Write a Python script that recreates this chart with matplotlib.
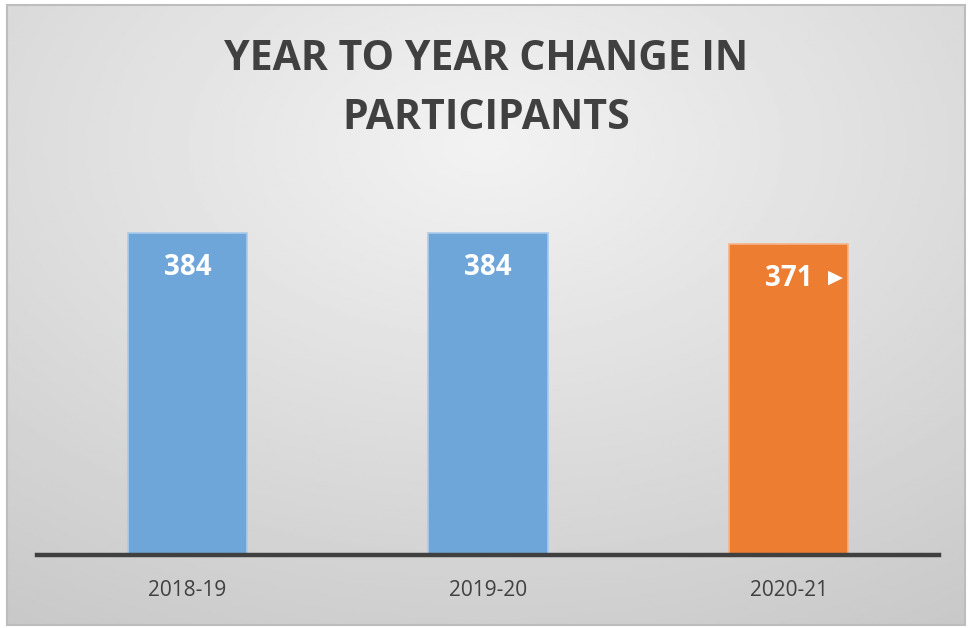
import numpy as np
import matplotlib
matplotlib.use('Agg')
import matplotlib.pyplot as plt

seasons = ['2018-19', '2019-20', '2020-21']
participants = [384, 384, 371]
bar_colors = ['#6FA6DA', '#6FA6DA', '#ED7D31']
edge_colors = ['#A9CBEB', '#A9CBEB', '#F5B48A']
title = 'YEAR TO YEAR CHANGE IN\nPARTICIPANTS'

W, H = 969, 628
fig = plt.figure(figsize=(W / 100, H / 100), dpi=100)
fig.patch.set_facecolor('white')

# chart area with radial gray gradient
x0, y0, x1, y1 = 7, 5, 965, 625
bg = fig.add_axes([x0 / W, 1 - y1 / H, (x1 - x0) / W, (y1 - y0) / H])
gx, gy = np.meshgrid(np.linspace(-1, 1, 400), np.linspace(-1, 1, 260))
r = np.clip(np.sqrt(gx ** 2 + (gy + 0.55) ** 2) / 1.9, 0, 1)
shade = 0.95 - 0.17 * r
bg.imshow(shade, cmap='gray', vmin=0, vmax=1, aspect='auto',
          extent=[0, 1, 0, 1], origin='upper')
bg.set_xticks([])
bg.set_yticks([])
for s in bg.spines.values():
    s.set_color('#BDBDBD')
    s.set_linewidth(1.5)

# plot axes
ax_l, ax_r, ax_b, ax_t = 37, 939, 555, 150
ax = fig.add_axes([ax_l / W, 1 - ax_b / H, (ax_r - ax_l) / W, (ax_b - ax_t) / H])
ax.patch.set_alpha(0)
ymax = 384 * (ax_b - ax_t) / (ax_b - 233)
ax.set_ylim(0, ymax)
ax.set_xlim(-0.5, 2.5)

x = np.arange(len(seasons))
ax.bar(x, participants, width=0.396, color=bar_colors, edgecolor=edge_colors,
       linewidth=1.2, zorder=2)

for xi, v in zip(x, participants):
    ax.text(xi, v - ymax * 0.085, str(v), ha='center', va='center',
            color='white', fontsize=20, fontweight='bold', family='Open Sans',
            zorder=3)
ax.text(2 + 0.155, participants[2] - ymax * 0.083, '\u25B6', ha='center',
        va='center', color='white', fontsize=14, family='DejaVu Sans', zorder=3)

for s in ['top', 'right', 'left']:
    ax.spines[s].set_visible(False)
ax.spines['bottom'].set_color('#404040')
ax.spines['bottom'].set_linewidth(3.2)
ax.spines['bottom'].set_zorder(4)
ax.set_yticks([])
ax.set_xticks(x)
ax.set_xticklabels(seasons, fontsize=15, color='#404040', family='Open Sans')
ax.tick_params(axis='x', length=0, pad=18)

fig.text(0.5 * (x0 + x1) / W, 1 - 89 / H, title, ha='center', va='center',
         fontsize=29.5, fontweight='bold', color='#404040', family='Open Sans',
         linespacing=1.58)

fig.savefig('out.png', dpi=100)
